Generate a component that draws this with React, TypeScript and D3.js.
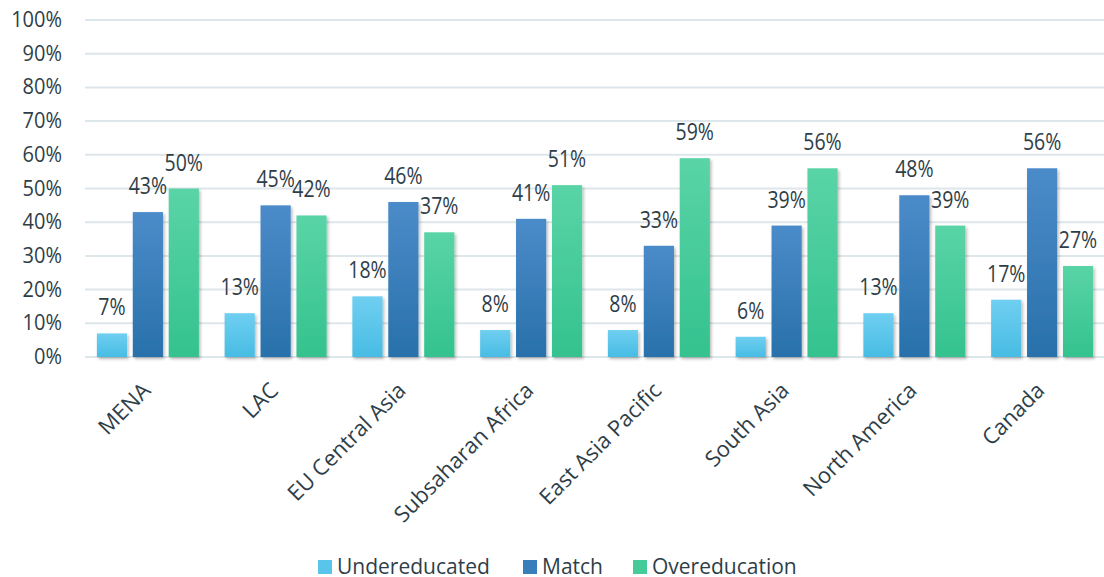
import React from "react";
import * as d3 from "d3";

const categories = [
  "MENA",
  "LAC",
  "EU Central Asia",
  "Subsaharan Africa",
  "East Asia Pacific",
  "South Asia",
  "North America",
  "Canada",
];
const seriesNames = ["Undereducated", "Match", "Overeducation"];
const undereducated = [7, 13, 18, 8, 8, 6, 13, 17];
const match = [43, 45, 46, 41, 33, 39, 48, 56];
const overeducation = [50, 42, 37, 51, 59, 56, 39, 27];
const yTicks = [0, 10, 20, 30, 40, 50, 60, 70, 80, 90, 100];

const W = 1104;
const H = 577;
const plot = { left: 84, right: 1106, top: 20, bottom: 357 };
const textColor = "#2e3e48";
const font = "'Open Sans', sans-serif";

const gradients = [
  { id: "g-under", top: "#6fcff1", bottom: "#48bce3", swatch: "#5ac5ea" },
  { id: "g-match", top: "#4b8bc9", bottom: "#2871ab", swatch: "#387ebb" },
  { id: "g-over", top: "#5ad4a7", bottom: "#34c28f", swatch: "#45ca9a" },
];

export default function App() {
  const series = [undereducated, match, overeducation];
  const x0 = d3.scaleBand<string>().domain(categories).range([plot.left, plot.right]).padding(0);
  const x1 = d3
    .scaleBand<number>()
    .domain([0, 1, 2])
    .range([x0.bandwidth() / 2 - 51, x0.bandwidth() / 2 + 51])
    .paddingInner(0.16)
    .paddingOuter(0);
  const y = d3.scaleLinear().domain([0, 100]).range([plot.bottom, plot.top]);

  const legendItems = [
    { x: 318, label: seriesNames[0] },
    { x: 523, label: seriesNames[1] },
    { x: 633, label: seriesNames[2] },
  ];

  return (
    <svg width={W} height={H} style={{ position: "absolute", left: 0, top: 0, background: "#fff" }}>
      <defs>
        {gradients.map((g) => (
          <linearGradient key={g.id} id={g.id} x1="0" y1="0" x2="0" y2="1">
            <stop offset="0" stopColor={g.top} />
            <stop offset="1" stopColor={g.bottom} />
          </linearGradient>
        ))}
        <filter id="bar-shadow" x="-30%" y="-10%" width="160%" height="130%">
          <feDropShadow dx="1.5" dy="2" stdDeviation="1.8" floodColor="#000" floodOpacity="0.28" />
        </filter>
      </defs>

      {/* gridlines */}
      {yTicks.map((t) => (
        <line
          key={t}
          x1={plot.left + 1}
          x2={W}
          y1={y(t)}
          y2={y(t)}
          stroke="#dde6ea"
          strokeWidth={2}
        />
      ))}

      {/* y tick labels */}
      {yTicks.map((t) => (
        <text
          key={"t" + t}
          transform={`translate(62,${y(t) + 7}) scale(1,1.12)`}
          textAnchor="end"
          fontFamily={font}
          fontSize={20}
          fill={textColor}
        >
          {t}%
        </text>
      ))}

      {/* bars */}
      {categories.map((c, ci) => (
        <g key={c} transform={`translate(${x0(c)},0)`}>
          {series.map((s, si) => (
            <rect
              key={si}
              x={x1(si)}
              y={y(s[ci])}
              width={x1.bandwidth()}
              height={plot.bottom - y(s[ci])}
              fill={`url(#${gradients[si].id})`}
              filter="url(#bar-shadow)"
            />
          ))}
          {series.map((s, si) => (
            <text
              key={"l" + si}
              transform={`translate(${(x1(si) as number) + x1.bandwidth() / 2},${y(s[ci]) - 18}) scale(1,1.22)`}
              textAnchor="middle"
              fontFamily={font}
              fontSize={19.5}
              fill={textColor}
            >
              {s[ci]}%
            </text>
          ))}
        </g>
      ))}

      {/* category labels */}
      {categories.map((c) => (
        <text
          key={"c" + c}
          transform={`translate(${(x0(c) as number) + x0.bandwidth() / 2 - 7},${plot.bottom + 24}) rotate(-45)`}
          textAnchor="end"
          dy="0.7em"
          fontFamily={font}
          fontSize={22}
          fill={textColor}
        >
          {c}
        </text>
      ))}

      {/* legend */}
      {legendItems.map((item, i) => (
        <g key={item.label} transform={`translate(${item.x},567)`}>
          <rect x={0} y={-7} width={14} height={14} fill={gradients[i].swatch} />
          <text x={19} y={7} fontFamily={font} fontSize={21} fill={textColor}>
            {item.label}
          </text>
        </g>
      ))}
    </svg>
  );
}
